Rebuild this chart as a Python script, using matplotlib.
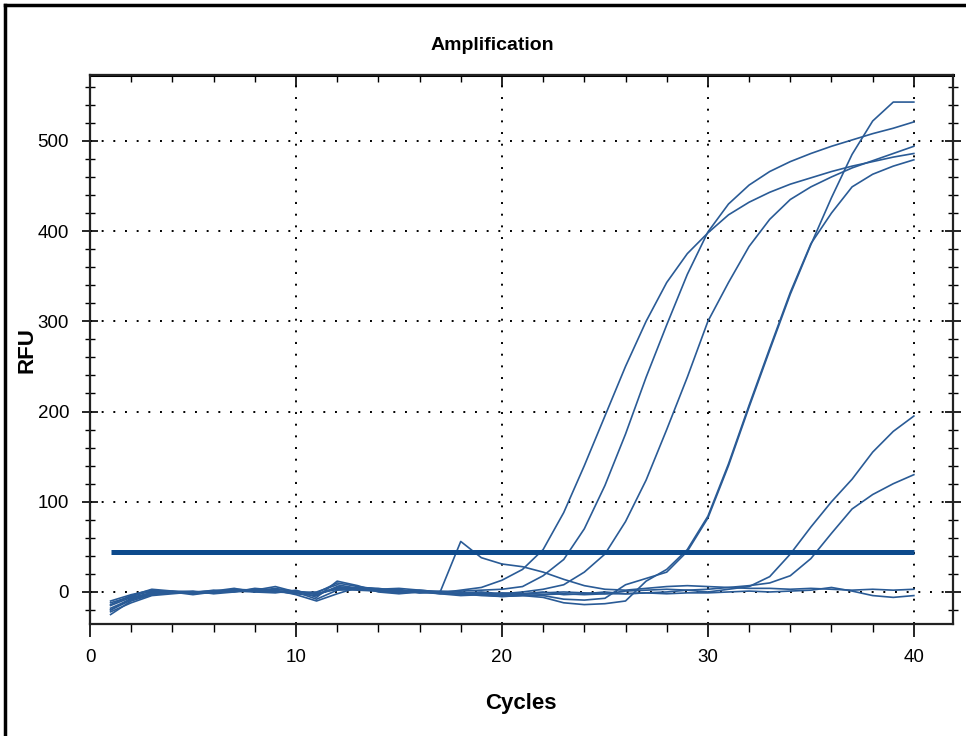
import matplotlib
matplotlib.use("Agg")
import matplotlib.pyplot as plt
from matplotlib.lines import Line2D
from matplotlib.ticker import MultipleLocator

# cycle numbers
cycles = list(range(1, 41))

# RFU traces
well_a = [-18, -8, -3, -1, 0, 1, 0, 2, 1, 0, -2, 3, 2, 1, 0, 1, -1, 2, 5, 13,
          25, 47, 88, 140, 195, 250, 300, 343, 375, 398, 418, 432, 443, 452, 459, 466, 472, 477, 482, 486]
well_b = [-12, -5, 1, 0, -1, 2, 1, 0, 3, 1, -3, 5, 3, 2, 1, -1, 0, 1, 2, 3,
          6, 18, 36, 70, 118, 175, 238, 296, 352, 399, 430, 451, 466, 477, 486, 494, 501, 508, 514, 521]
well_c = [-22, -12, -4, -2, 0, -1, 2, 1, 0, -1, 0, 8, 4, 2, 0, 1, -2, -1, 0, -2,
          0, 3, 8, 22, 42, 78, 124, 180, 238, 300, 343, 383, 413, 435, 449, 460, 470, 478, 486, 494]
well_d1 = [-15, -6, -1, 1, -2, 0, 3, 2, 6, 0, -1, 10, 6, 3, 2, 0, -1, -3, -2, -4,
           -3, -4, -8, -9, -7, 8, 15, 22, 45, 82, 140, 205, 268, 330, 385, 437, 485, 522, 543, 543]
well_d2 = [-25, -10, -3, 0, 1, -2, 0, 4, 2, -3, -10, -2, 5, 4, 1, 2, 0, -2, -4, -5,
           -4, -6, -12, -14, -13, -10, 12, 25, 47, 84, 142, 207, 270, 332, 386, 420, 449, 463, 472, 479]
well_e = [-20, -9, 0, -1, 0, 1, 4, 0, -1, 2, -6, 12, 7, 0, -2, 0, 1, 0, -3, -1,
          -2, 0, -3, -2, 0, -2, -1, 0, 2, 0, 3, 6, 17, 42, 72, 100, 125, 155, 178, 195]
well_f = [-10, -3, 2, 0, -1, 0, 1, 3, 1, -2, -4, 6, 4, 2, 3, -1, 0, -2, -1, -3,
          -2, -1, 0, -1, -2, 1, 2, 3, 2, 3, 5, 7, 10, 18, 37, 65, 92, 108, 120, 130]
well_s = [-14, -4, 3, 1, 0, -1, 2, 1, 0, 1, -2, 4, 5, 3, 4, 2, 0, 56, 38, 31,
          28, 22, 14, 7, 3, 2, 4, 6, 7, 6, 5, 4, 4, 3, 4, 3, 2, 3, 2, 3]
well_n = [-20, -7, -2, 0, -3, 0, 2, 1, 4, 0, -8, 2, 3, 1, -1, 0, -2, -4, -3, -5,
          -4, -3, -2, -3, -2, -2, -1, -2, -1, -1, 0, 1, 0, 1, 2, 5, 1, -4, -6, -4]
threshold = 44

traces = [well_a, well_b, well_c, well_d1, well_d2, well_e, well_f, well_s, well_n]

font = 'Liberation Sans'

fig = plt.figure(figsize=(9.66, 7.36), dpi=100)
ax = fig.add_axes([90 / 966, 1 - 624 / 736, 863 / 966, 549 / 736])

for tr in traces:
    ax.plot(cycles, tr, color='#2a5b96', lw=1.2)
ax.plot([cycles[0], cycles[-1]], [threshold, threshold], color='#0d4a8c', lw=3.6, solid_capstyle='butt')

ax.set_xlim(0, 41.9)
ax.set_ylim(-35.5, 573)

ax.xaxis.set_major_locator(MultipleLocator(10))
ax.xaxis.set_minor_locator(MultipleLocator(2))
ax.yaxis.set_major_locator(MultipleLocator(100))
ax.yaxis.set_minor_locator(MultipleLocator(20))

ax.grid(True, which='major', color='black', ls=(0, (1, 5)), lw=1.4)

ax.tick_params(axis='x', which='major', direction='out', length=9, width=1.2, top=False)
ax.tick_params(axis='x', which='minor', direction='out', length=6, width=1)
ax.tick_params(axis='y', which='major', direction='inout', length=12, width=1.2, right=True)
ax.tick_params(axis='y', which='minor', direction='inout', length=7, width=1, right=True)
ax.tick_params(labelsize=13.5, colors='black', pad=9)
sec = ax.secondary_xaxis('top')
sec.xaxis.set_major_locator(MultipleLocator(10))
sec.xaxis.set_minor_locator(MultipleLocator(2))
sec.tick_params(which='major', direction='in', length=8, width=1.2, labeltop=False)
sec.tick_params(which='minor', direction='in', length=5, width=1)
for lab in ax.get_xticklabels() + ax.get_yticklabels():
    lab.set_family(font)

for sp in ax.spines.values():
    sp.set_linewidth(1.6)
    sp.set_color('#222222')
sec.spines['top'].set_linewidth(2.2)

fig.text(492 / 966, 1 - 46 / 736, 'Amplification', ha='center', va='center',
         fontsize=14, fontweight='bold', family=font)
fig.text(521 / 966, 1 - 703 / 736, 'Cycles', ha='center', va='center',
         fontsize=16, fontweight='bold', family=font)
fig.text(27 / 966, 1 - 350 / 736, 'RFU', ha='center', va='center', rotation=90,
         fontsize=16, fontweight='bold', family=font)

# outer frame (top and left edges only, as in the screenshot)
fig.add_artist(Line2D([5 / 966, 1], [1 - 5 / 736, 1 - 5 / 736], color='black', lw=2.5))
fig.add_artist(Line2D([5 / 966, 5 / 966], [0, 1 - 5 / 736], color='black', lw=2.5))

fig.savefig('out.png', dpi=100)
